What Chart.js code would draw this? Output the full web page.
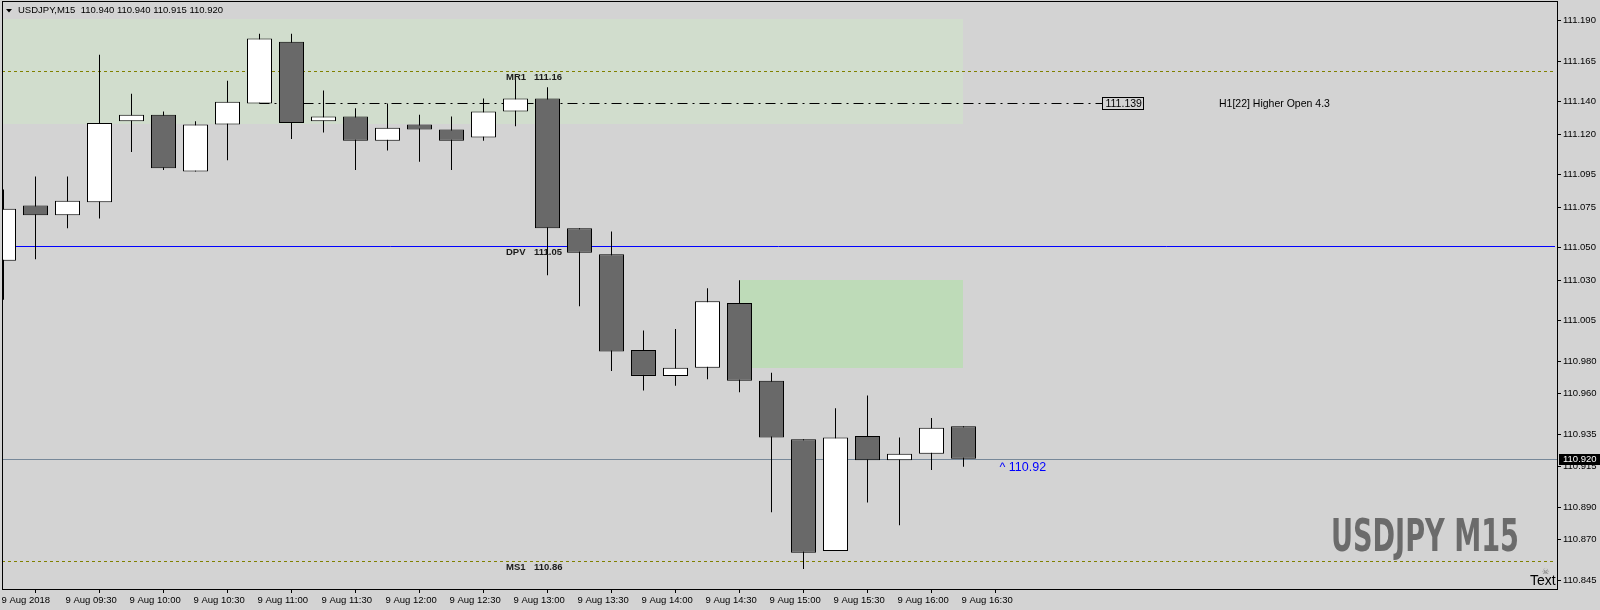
<!DOCTYPE html>
<html>
<head>
<meta charset="utf-8">
<script src="https://cdn.jsdelivr.net/npm/chart.js@4.4.1/dist/chart.umd.min.js"></script>
<style>
  html, body { margin: 0; padding: 0; background: #d3d3d3; }
  canvas { display: block; }
</style>
</head>
<body>
<canvas id="chart" width="1600" height="610"></canvas>
<script>
// USDJPY M15, 9 Aug 2018 09:00 .. 16:30 (one entry per candle)
const symbolName = "USDJPY";
const timeframe = "M15";

// axis labels, one for every second candle
const timeLabels = [
  "9 Aug 2018", "9 Aug 09:30", "9 Aug 10:00", "9 Aug 10:30", "9 Aug 11:00",
  "9 Aug 11:30", "9 Aug 12:00", "9 Aug 12:30", "9 Aug 13:00", "9 Aug 13:30",
  "9 Aug 14:00", "9 Aug 14:30", "9 Aug 15:00", "9 Aug 15:30", "9 Aug 16:00",
  "9 Aug 16:30"
];
const priceTicks = [
  111.190, 111.165, 111.140, 111.120, 111.095, 111.075, 111.050, 111.030,
  111.005, 110.980, 110.960, 110.935, 110.915, 110.890, 110.870, 110.845
];

const opens = [
  111.042, 111.076, 111.070, 111.078, 111.128, 111.132, 111.097, 111.126,
  111.139, 111.177, 111.128, 111.131, 111.116, 111.126, 111.123, 111.118,
  111.134, 111.142, 111.062, 111.046, 110.987, 110.971, 110.976, 111.016,
  110.968, 110.932, 110.863, 110.934, 110.919, 110.923, 110.940
];
const highs = [
  111.086, 111.094, 111.094, 111.169, 111.145, 111.134, 111.128, 111.153,
  111.182, 111.182, 111.147, 111.136, 111.139, 111.132, 111.131, 111.142,
  111.155, 111.149, 111.062, 111.060, 110.999, 111.000, 111.025, 111.030,
  110.973, 110.932, 110.951, 110.959, 110.933, 110.945, 110.940
];
const lows = [
  111.018, 111.043, 111.062, 111.068, 111.109, 111.098, 111.097, 111.104,
  111.139, 111.117, 111.121, 111.098, 111.110, 111.103, 111.098, 111.116,
  111.125, 111.033, 111.014, 110.974, 110.962, 110.965, 110.969, 110.961,
  110.887, 110.852, 110.863, 110.893, 110.879, 110.913, 110.915
];
const closes = [
  111.074, 111.070, 111.079, 111.127, 111.132, 111.099, 111.126, 111.140,
  111.179, 111.127, 111.131, 111.116, 111.124, 111.123, 111.116, 111.134,
  111.142, 111.062, 111.047, 110.986, 110.971, 110.976, 111.017, 110.968,
  110.933, 110.862, 110.933, 110.919, 110.923, 110.939, 110.920
];

// pivot levels
const levelNames = ["MR1", "DPV", "MS1"];
const levelTexts = ["111.16", "111.05", "110.86"];
const levelValues = [111.159, 111.051, 110.857];

// supply / demand boxes (candle index range, price range)
const zoneFrom = [-2, 23];
const zoneTo = [29.98, 29.98];
const zoneHigh = [111.191, 111.030];
const zoneLow = [111.126, 110.976];

// H1 higher open line
const higherOpen = 111.139;
const higherOpenFrom = 8;
const higherOpenTo = 34.33;
const higherOpenText = "H1[22] Higher Open 4.3";

const lastPrice = closes[closes.length - 1];

const FONT = "Liberation Sans";
const zoneColors = ["#d1ddcd", "#bedbb8"];

const bodies = opens.map((o, i) => ({ x: i, y: [o, closes[i]] }));
const wicks = opens.map((o, i) => ({ x: i, y: [lows[i], highs[i]] }));
const bodyColors = opens.map((o, i) => (closes[i] >= o ? "#ffffff" : "#696969"));

function hLine(ctx, y, x1, x2) {
  const py = Math.round(y) + 0.5;
  ctx.beginPath();
  ctx.moveTo(x1, py);
  ctx.lineTo(x2, py);
  ctx.stroke();
}

const overlayPlugin = {
  id: "overlay",
  beforeDraw(chart) {
    const ctx = chart.ctx;
    ctx.save();
    ctx.fillStyle = "#d3d3d3";
    ctx.fillRect(0, 0, chart.width, chart.height);
    ctx.restore();
  },
  beforeDatasetsDraw(chart) {
    const { ctx, chartArea: a } = chart;
    const xs = chart.scales.x;
    const ys = chart.scales.y;
    ctx.save();
    ctx.beginPath();
    ctx.rect(a.left, a.top, a.right - a.left, a.bottom - a.top);
    ctx.clip();

    // zones
    zoneFrom.forEach((f, k) => {
      const x1 = xs.getPixelForValue(f);
      const x2 = xs.getPixelForValue(zoneTo[k]);
      const y1 = ys.getPixelForValue(zoneHigh[k]);
      const y2 = ys.getPixelForValue(zoneLow[k]);
      ctx.fillStyle = zoneColors[k];
      ctx.fillRect(Math.round(x1), Math.round(y1), Math.round(x2 - x1), Math.round(y2 - y1));
    });

    // pivot lines
    ctx.lineWidth = 1;
    levelValues.forEach((v, k) => {
      const y = ys.getPixelForValue(v);
      if (levelNames[k] === "DPV") {
        ctx.strokeStyle = "#0000ff";
        ctx.setLineDash([]);
      } else {
        ctx.strokeStyle = "#808000";
        ctx.setLineDash([3, 3]);
      }
      hLine(ctx, y, a.left, a.right - 3);
    });

    // current price line
    ctx.setLineDash([]);
    ctx.strokeStyle = "#778899";
    hLine(ctx, ys.getPixelForValue(lastPrice), a.left, a.right);

    // higher open dash-dot line
    ctx.strokeStyle = "#000000";
    ctx.setLineDash([10, 5, 2, 5]);
    hLine(ctx, ys.getPixelForValue(higherOpen),
      xs.getPixelForValue(higherOpenFrom), xs.getPixelForValue(higherOpenTo));
    ctx.restore();
  },
  afterDraw(chart) {
    const { ctx, chartArea: a } = chart;
    const xs = chart.scales.x;
    const ys = chart.scales.y;
    ctx.save();

    // plot frame
    ctx.strokeStyle = "#000";
    ctx.lineWidth = 1;
    ctx.strokeRect(a.left + 0.5, a.top + 0.5, a.right - a.left - 1, a.bottom - a.top);

    // header
    ctx.fillStyle = "#000";
    ctx.beginPath();
    ctx.moveTo(6, 9);
    ctx.lineTo(12, 9);
    ctx.lineTo(9, 12.5);
    ctx.closePath();
    ctx.fill();
    ctx.font = "9.5px '" + FONT + "'";
    ctx.textBaseline = "middle";
    ctx.textAlign = "left";
    const n = opens.length - 1;
    const header = symbolName + "," + timeframe + "  " +
      [opens[n], highs[n], lows[n], closes[n]].map(v => v.toFixed(3)).join(" ");
    ctx.fillText(header, 18, 10.5);

    // pivot labels
    ctx.font = "bold 9.5px '" + FONT + "'";
    ctx.fillStyle = "#1a1a1a";
    levelValues.forEach((v, k) => {
      const y = Math.round(ys.getPixelForValue(v)) + 6;
      ctx.fillText(levelNames[k], 506, y);
      ctx.fillText(levelTexts[k], 534, y);
    });

    // higher open box + text
    const hy = Math.round(ys.getPixelForValue(higherOpen)) + 0.5;
    const bx = Math.round(xs.getPixelForValue(higherOpenTo)) + 0.5;
    ctx.font = "10.5px '" + FONT + "'";
    const t = higherOpen.toFixed(3);
    const tw = ctx.measureText(t).width;
    ctx.fillStyle = "#000";
    ctx.strokeStyle = "#000";
    ctx.strokeRect(bx, hy - 6, Math.round(tw) + 5, 12);
    ctx.fillText(t, bx + 3, hy + 0.5);
    ctx.fillText(higherOpenText, 1219, hy + 0.5);

    // last price note
    ctx.font = "12.5px '" + FONT + "'";
    ctx.fillStyle = "#0000ff";
    ctx.fillText("^ " + lastPrice.toFixed(2), xs.getPixelForValue(n) + 36, ys.getPixelForValue(lastPrice) + 8.5);

    // price box on axis
    const py = Math.round(ys.getPixelForValue(lastPrice));
    ctx.fillStyle = "#000";
    ctx.fillRect(a.right + 1, py - 5, chart.width - a.right, 11);
    ctx.fillStyle = "#fff";
    ctx.font = "9.5px '" + FONT + "'";
    ctx.fillText(lastPrice.toFixed(3), a.right + 5, py + 0.5);

    // watermark
    ctx.fillStyle = "#6b6b6b";
    ctx.font = "bold 45px 'DejaVu Sans'";
    const wm = symbolName + " " + timeframe;
    const ww = ctx.measureText(wm).width;
    ctx.save();
    ctx.translate(1331, 551);
    ctx.scale(188 / ww, 1);
    ctx.textBaseline = "alphabetic";
    ctx.fillText(wm, 0, 0);
    ctx.restore();

    // "Text" object
    ctx.fillStyle = "#000";
    ctx.font = "14px '" + FONT + "'";
    ctx.textBaseline = "middle";
    ctx.fillText("Text", 1530, 581);
    ctx.fillStyle = "#707070";
    ctx.font = "8px 'DejaVu Sans'";
    ctx.fillText("\u2620", 1542, 572);

    ctx.restore();
  }
};

const ctx = document.getElementById("chart").getContext("2d");
new Chart(ctx, {
  type: "bar",
  data: {
    datasets: [
      {
        label: "body",
        data: bodies,
        backgroundColor: bodyColors,
        borderColor: "#000",
        borderWidth: 1,
        borderSkipped: false,
        barThickness: 25,
        grouped: false,
        inflateAmount: 0,
        order: 1
      },
      {
        label: "wick",
        data: wicks,
        backgroundColor: "#000",
        borderWidth: 0,
        barThickness: 1,
        grouped: false,
        inflateAmount: 0,
        order: 2
      }
    ]
  },
  options: {
    responsive: false,
    devicePixelRatio: 1,
    animation: false,
    layout: { padding: { left: 2, top: 1, right: 0, bottom: 0 } },
    plugins: {
      legend: { display: false },
      tooltip: { enabled: false }
    },
    scales: {
      x: {
        type: "linear",
        min: -0.046875,
        max: 48.578125,
        offset: false,
        grid: { drawOnChartArea: false, drawTicks: true, tickLength: 4, tickColor: "#000" },
        border: { display: false },
        ticks: {
          autoSkip: false,
          maxRotation: 0,
          minRotation: 0,
          align: "start",
          labelOffset: -2,
          padding: 2,
          color: "#000",
          font: { family: FONT, size: 9.5 },
          callback: (v) => timeLabels[Math.round(v / 2)]
        },
        afterBuildTicks: (s) => { s.ticks = timeLabels.map((_, k) => ({ value: 2 * k })); },
        afterFit: (s) => { s.height = 21; s.paddingLeft = 0; s.paddingRight = 0; }
      },
      y: {
        type: "linear",
        position: "right",
        min: 110.83963,
        max: 111.20215,
        grid: { drawOnChartArea: false, drawTicks: true, tickLength: 3, tickColor: "#000" },
        border: { display: false },
        ticks: {
          autoSkip: false,
          padding: 2,
          color: "#000",
          font: { family: FONT, size: 9.5 },
          callback: (v) => Number(v).toFixed(3)
        },
        afterBuildTicks: (s) => { s.ticks = priceTicks.map(v => ({ value: v })); },
        afterFit: (s) => { s.width = 42; s.paddingTop = 0; s.paddingBottom = 0; }
      }
    }
  },
  plugins: [overlayPlugin]
});
</script>
</body>
</html>
